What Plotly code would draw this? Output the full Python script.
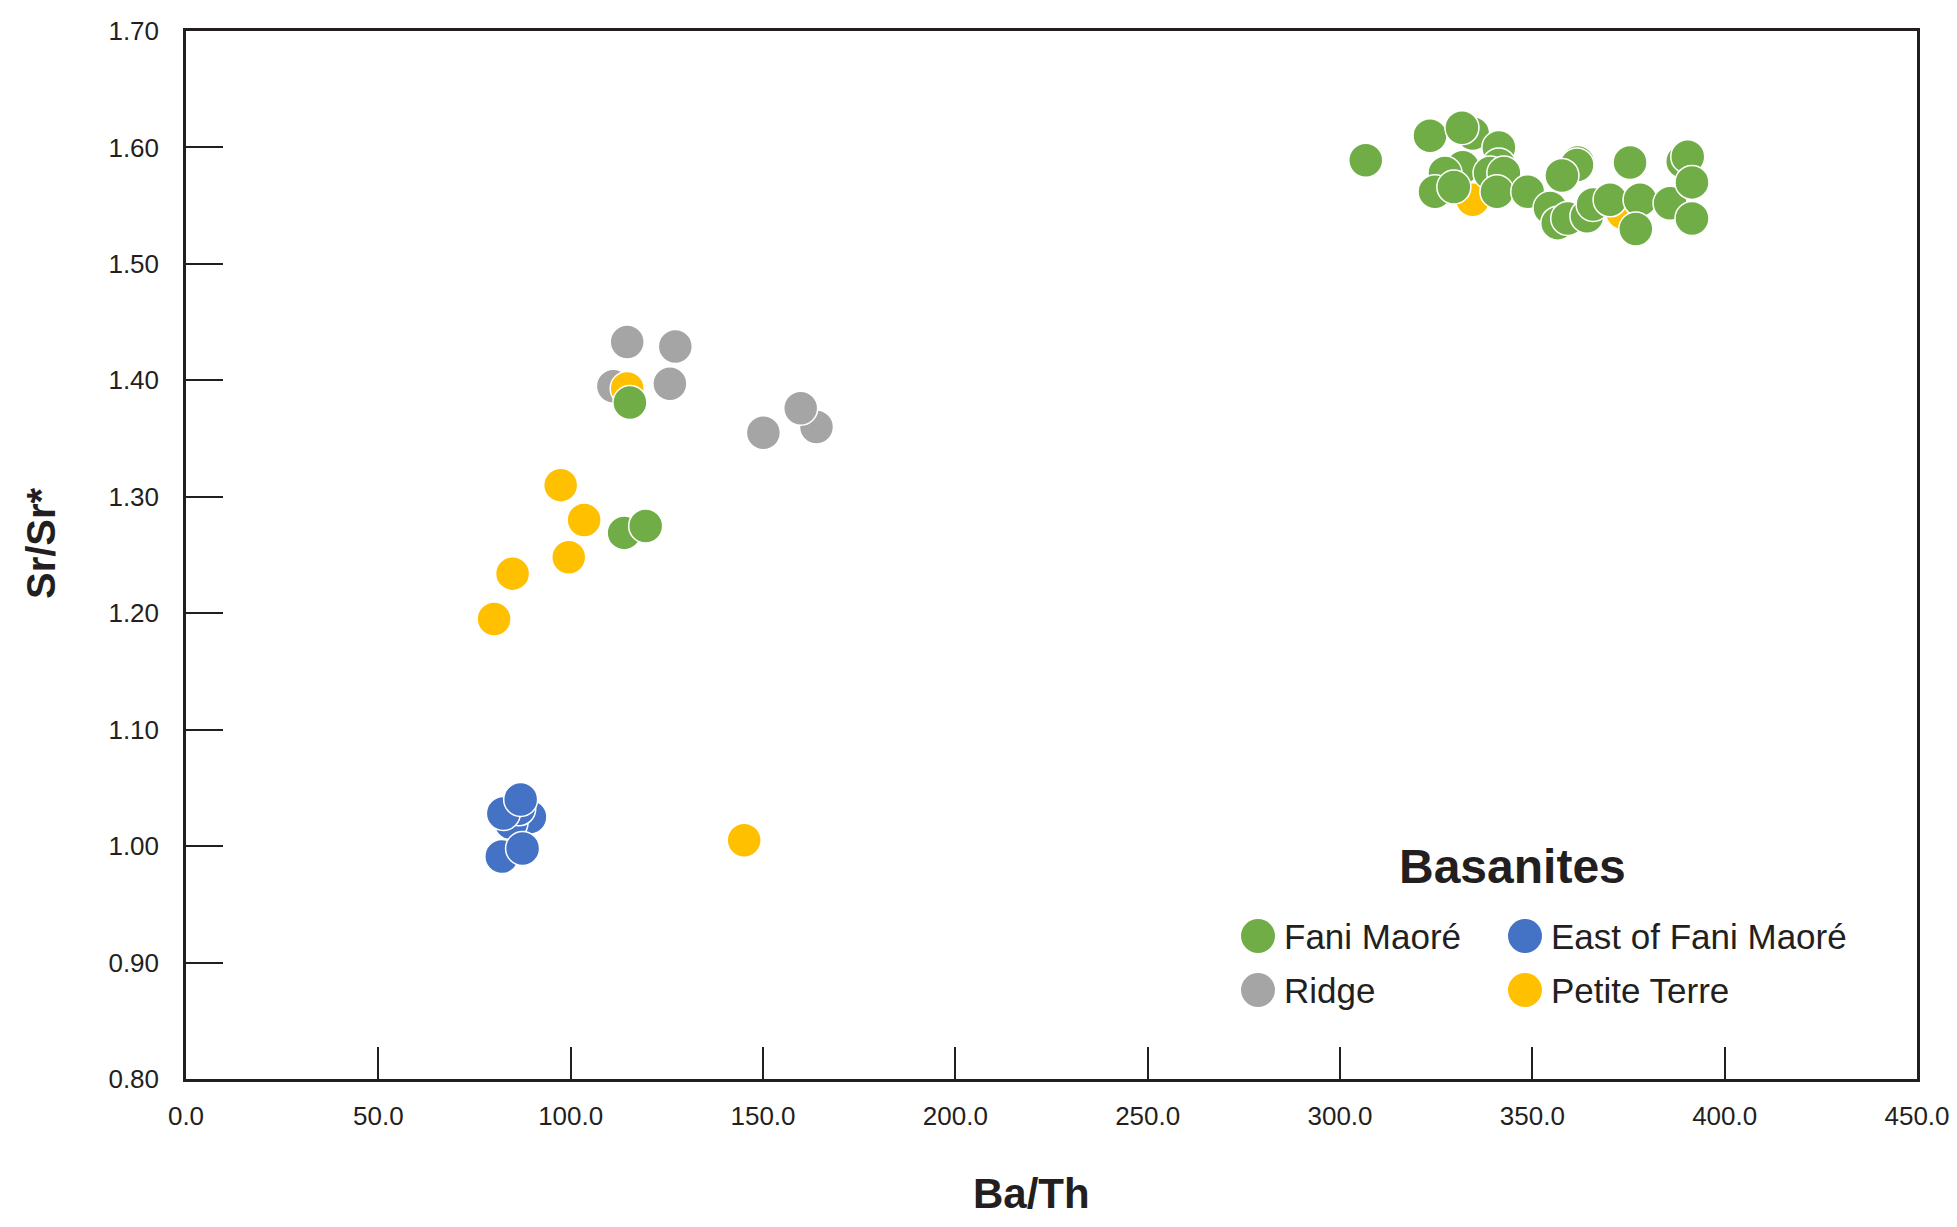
import plotly.graph_objects as go

# ---- data ----
fani_x = [306.7, 323.4, 334.5, 331.7, 341.3, 341.3, 331.9, 327.3, 324.7, 329.6,
          339.0, 342.6, 340.8, 348.8, 361.8, 361.6, 357.7, 354.6, 356.6, 359.2,
          364.2, 365.8, 370.2, 375.4, 378.0, 376.9, 385.8, 389.1, 390.4, 391.5,
          391.5, 113.9, 119.5, 115.4]
fani_y = [1.589, 1.610, 1.612, 1.617, 1.600, 1.585, 1.583, 1.578, 1.562, 1.566,
          1.578, 1.578, 1.562, 1.562, 1.587, 1.585, 1.576, 1.548, 1.535, 1.539,
          1.541, 1.551, 1.555, 1.587, 1.555, 1.530, 1.552, 1.588, 1.592, 1.570,
          1.539, 1.269, 1.275, 1.381]

east_x = [89.4, 84.5, 86.5, 82.5, 87.0, 82.1, 87.5]
east_y = [1.025, 1.020, 1.032, 1.028, 1.040, 0.991, 0.998]

ridge_x = [114.7, 127.2, 111.1, 125.8, 150.1, 163.9, 159.8]
ridge_y = [1.433, 1.429, 1.395, 1.397, 1.355, 1.360, 1.376]

petite_x = [97.4, 103.5, 99.5, 84.9, 80.1, 114.7, 145.1, 334.5, 373.5]
petite_y = [1.310, 1.280, 1.248, 1.234, 1.195, 1.393, 1.005, 1.555, 1.544]

x_ticks = [0, 50, 100, 150, 200, 250, 300, 350, 400, 450]
y_ticks = [0.8, 0.9, 1.0, 1.1, 1.2, 1.3, 1.4, 1.5, 1.6, 1.7]

series = [
    ("Ridge", ridge_x, ridge_y, "#A5A5A5"),
    ("Petite Terre", petite_x, petite_y, "#FFC000"),
    ("East of Fani Maoré", east_x, east_y, "#4472C4"),
    ("Fani Maoré", fani_x, fani_y, "#70AD47"),
]

AX = "#231F20"
FONT = "Liberation Sans, Arial"

fig = go.Figure()
for name, xs, ys, col in series:
    fig.add_trace(go.Scatter(
        x=xs, y=ys, mode="markers", name=name, showlegend=False,
        marker=dict(size=34, color=col, line=dict(color="white", width=1.5)),
    ))

# page has an 8px body margin: figure spans 8..1949 x 8..1219
fig.update_layout(
    width=1941, height=1211,
    margin=dict(l=178, r=32, t=23, b=140),
    paper_bgcolor="white", plot_bgcolor="white",
    showlegend=False,
)
fig.update_xaxes(
    range=[0, 450], tickvals=x_ticks, tickformat=".1f",
    ticks="inside", ticklen=32, tickwidth=1.5, tickcolor=AX,
    showline=True, linewidth=2.5, linecolor=AX, mirror=True,
    showgrid=False, zeroline=False,
    tickfont=dict(family=FONT, size=26, color=AX),
    ticklabelstandoff=12, ticklabeloverflow="allow", automargin=False,
)
fig.update_yaxes(
    range=[0.8, 1.7], tickvals=y_ticks, tickformat=".2f",
    ticks="inside", ticklen=37, tickwidth=1.5, tickcolor=AX,
    showline=True, linewidth=2.5, linecolor=AX, mirror=True,
    showgrid=False, zeroline=False,
    tickfont=dict(family=FONT, size=26, color=AX),
    ticklabelstandoff=19, ticklabeloverflow="allow", automargin=False,
)

# helper: page pixel -> paper coordinates (plot area 186..1917 x 31..1079 on page)
def px_to_paper(px, py):
    return (px - 186) / 1731, (1079 - py) / 1048

# axis titles
ax_, ay_ = px_to_paper(1031, 1193)
fig.add_annotation(text="<b>Ba/Th</b>", xref="paper", yref="paper",
                   x=ax_, y=ay_, showarrow=False, xanchor="center", yanchor="middle",
                   font=dict(family=FONT, size=42, color=AX))
bx_, by_ = px_to_paper(41, 543)
fig.add_annotation(text="<b>Sr/Sr*</b>", xref="paper", yref="paper",
                   x=bx_, y=by_, textangle=-90,
                   showarrow=False, xanchor="center", yanchor="middle",
                   font=dict(family=FONT, size=40, color=AX))

# custom legend (title + 2x2 entries)
tx, ty = px_to_paper(1512, 866)
fig.add_annotation(text="<b>Basanites</b>", xref="paper", yref="paper",
                   x=tx, y=ty, showarrow=False, xanchor="center", yanchor="middle",
                   font=dict(family=FONT, size=48, color=AX))

legend_order = [("Fani Maoré", "#70AD47", 1258, 936),
                ("East of Fani Maoré", "#4472C4", 1525, 936),
                ("Ridge", "#A5A5A5", 1258, 990),
                ("Petite Terre", "#FFC000", 1525, 990)]
r = 17
for name, col, cx, cy in legend_order:
    fig.add_shape(type="circle", xref="paper", yref="paper",
                  x0=(cx - r - 186) / 1731, x1=(cx + r - 186) / 1731,
                  y0=(1079 - cy - r) / 1048, y1=(1079 - cy + r) / 1048,
                  fillcolor=col, line=dict(width=0))
    lx, ly = px_to_paper(cx + 24, cy)
    fig.add_annotation(text=name, xref="paper", yref="paper", x=lx, y=ly,
                       showarrow=False, xanchor="left", yanchor="middle",
                       font=dict(family=FONT, size=35, color=AX))

fig.write_html("out.html")
